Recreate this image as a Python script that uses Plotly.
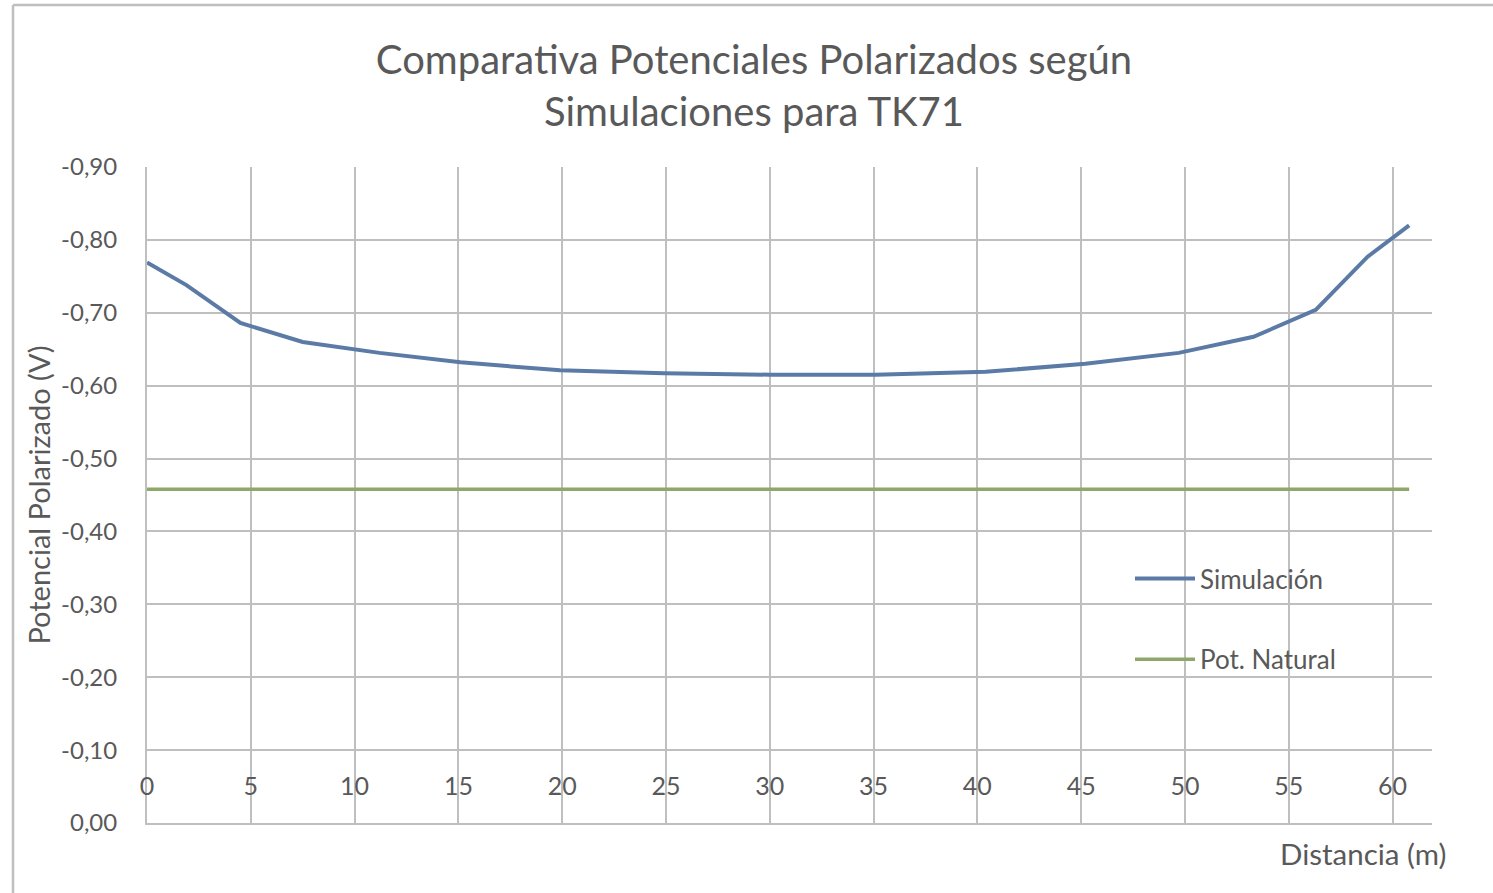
import plotly.graph_objects as go

# Distance along the tank (m) and simulated polarized potential (V)
distancia = [0, 1.9, 4.5, 7.5, 11.2, 15.1, 19.9, 24.9, 30.0, 35.1, 40.4, 45.2, 49.7, 53.3, 56.3, 58.8, 60.8]
simulacion = [-0.769, -0.738, -0.686, -0.660, -0.645, -0.632, -0.621, -0.617, -0.615,
              -0.615, -0.619, -0.630, -0.645, -0.667, -0.704, -0.777, -0.820]

# Natural potential reference (constant)
pot_natural_x = [0, 60.8]
pot_natural = [-0.458, -0.458]

y_ticks = [0, -0.1, -0.2, -0.3, -0.4, -0.5, -0.6, -0.7, -0.8, -0.9]
y_tick_labels = ["0,00", "-0,10", "-0,20", "-0,30", "-0,40", "-0,50", "-0,60", "-0,70", "-0,80", "-0,90"]
x_ticks = [0, 5, 10, 15, 20, 25, 30, 35, 40, 45, 50, 55, 60]

FONT = "Lato"
TXT = "#595959"
GRID = "#bfbfbf"

W, H = 1493, 893
ML, MR, MT, MB = 147, 61, 167, 70
PW, PH = W - ML - MR, H - MT - MB


def px_x(p):
    return (p - ML) / PW


def px_y(p):
    return (H - MB - p) / PH


fig = go.Figure()
fig.add_trace(go.Scatter(
    x=distancia, y=simulacion, mode="lines", name="Simulación",
    line=dict(color="#5B7BA6", width=4), legendgroup="a",
))
fig.add_trace(go.Scatter(
    x=pot_natural_x, y=pot_natural, mode="lines", name="Pot. Natural",
    line=dict(color="#8FA86A", width=3.5), legendgroup="b",
))

fig.update_layout(
    width=W, height=H,
    margin=dict(l=ML, r=MR, t=MT, b=MB),
    paper_bgcolor="white", plot_bgcolor="white",
    font=dict(family=FONT, color=TXT, size=24),
    title=dict(
        text="Comparativa Potenciales Polarizados según<br>Simulaciones para TK71",
        x=0.505, xanchor="center", y=(H - 74) / H, yanchor="middle",
        font=dict(family=FONT, size=40, color=TXT),
    ),
    xaxis=dict(
        range=[0, 61.9], tickvals=x_ticks,
        showgrid=True, gridcolor=GRID, gridwidth=2,
        showline=True, linecolor=GRID, linewidth=2,
        ticks="", ticklabelposition="inside", ticklabelstandoff=25,
        ticklabeloverflow="allow",
        tickfont=dict(size=25, color=TXT),
        zeroline=False,
    ),
    yaxis=dict(
        range=[0, -0.9], tickvals=y_ticks, ticktext=y_tick_labels,
        showgrid=True, gridcolor=GRID, gridwidth=2,
        showline=True, linecolor=GRID, linewidth=2,
        ticks="", ticklabelstandoff=23,
        tickfont=dict(size=24, color=TXT),
        zeroline=False,
        title=dict(text="Potencial Polarizado (V)", font=dict(size=29, color=TXT), standoff=2),
    ),
    legend=dict(
        x=px_x(1130), y=px_y(555), xanchor="left", yanchor="top",
        bgcolor="rgba(0,0,0,0)", font=dict(size=26, color=TXT),
        tracegroupgap=44, itemwidth=60,
    ),
    annotations=[
        dict(text="Distancia (m)", xref="paper", yref="paper",
             x=px_x(1448), y=px_y(853), xanchor="right", yanchor="middle",
             showarrow=False, font=dict(size=29.5, color=TXT)),
    ],
    shapes=[
        dict(type="line", xref="paper", yref="paper", x0=px_x(13), x1=px_x(13),
             y0=px_y(H + 5), y1=px_y(5), line=dict(color=GRID, width=2.5)),
        dict(type="line", xref="paper", yref="paper", x0=px_x(13), x1=px_x(W + 5),
             y0=px_y(5), y1=px_y(5), line=dict(color=GRID, width=2.5)),
    ],
)

fig.write_html("out.html")
